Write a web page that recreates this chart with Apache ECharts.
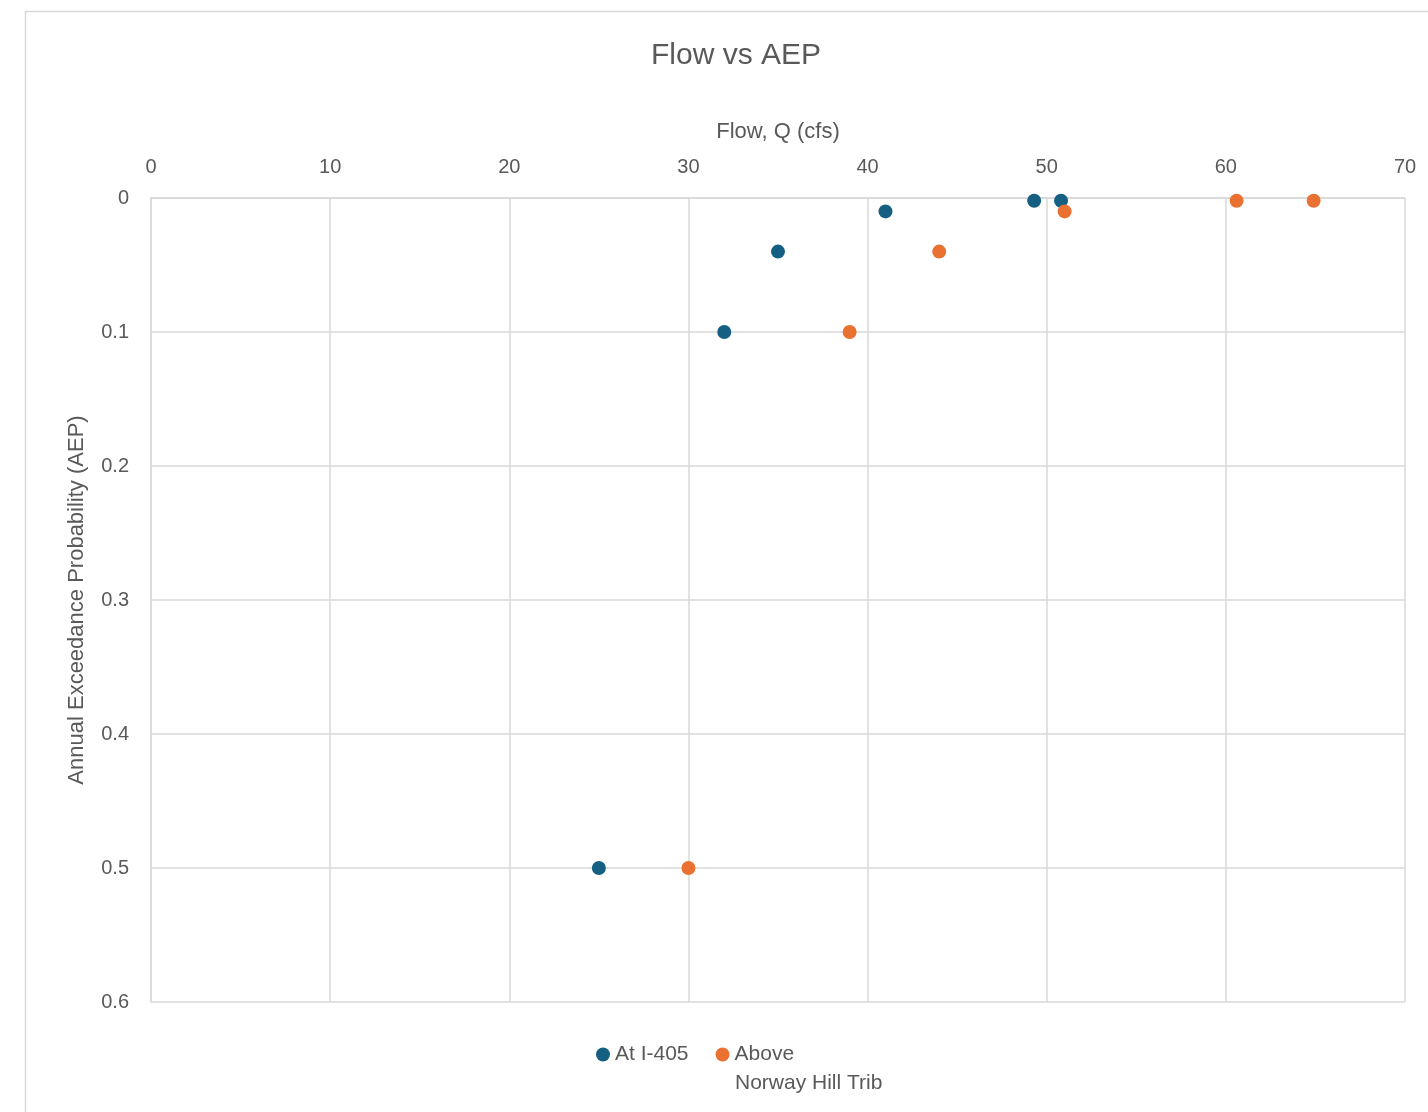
<!DOCTYPE html>
<html>
<head>
<meta charset="utf-8">
<script src="https://cdn.jsdelivr.net/npm/echarts@6/dist/echarts.min.js"></script>
<style>
  html, body { margin: 0; padding: 0; background: #ffffff; }
  #chart { width: 1428px; height: 1112px; }
</style>
</head>
<body>
<div id="chart"></div>
<script>
// Flow (cfs) and annual exceedance probability for each location
const seriesNames = ['At I-405', 'Above Norway Hill Trib'];
const flowAtI405 = [25, 32, 35, 41, 49.3, 50.8];
const aepAtI405 = [0.5, 0.1, 0.04, 0.01, 0.002, 0.002];
const flowAboveNorwayHill = [30, 39, 44, 51, 60.6, 64.9];
const aepAboveNorwayHill = [0.5, 0.1, 0.04, 0.01, 0.002, 0.002];
const seriesColors = ['#156082', '#e97132'];

const textColor = '#595959';
const gridColor = '#d9d9d9';
const fontFamily = '"Liberation Sans", Arial, sans-serif';

const pairs = (xs, ys) => xs.map((x, i) => [x, ys[i]]);

const chart = echarts.init(document.getElementById('chart'), null, { renderer: 'canvas' });

chart.setOption({
  backgroundColor: '#ffffff',
  animation: false,
  textStyle: { fontFamily: fontFamily, color: textColor },
  title: {
    text: 'Flow vs AEP',
    left: 731,
    textAlign: 'center',
    top: 36,
    textStyle: { fontFamily: fontFamily, fontSize: 30, fontWeight: 'normal', color: textColor }
  },
  graphic: [
    {
      type: 'rect',
      shape: { x: 25.5, y: 11.5, width: 1500, height: 1200 },
      style: { fill: 'none', stroke: gridColor, lineWidth: 1.5 },
      silent: true,
      z: -1
    },
    {
      // second line of the wrapped legend entry
      type: 'text',
      left: 735,
      top: 1073,
      silent: true,
      style: {
        text: 'Norway Hill Trib',
        fill: textColor,
        font: '21px ' + fontFamily
      }
    }
  ],
  grid: { left: 151, top: 198, width: 1254, height: 804, containLabel: false },
  xAxis: {
    type: 'value',
    position: 'top',
    min: 0,
    max: 70,
    interval: 10,
    name: 'Flow, Q (cfs)',
    nameLocation: 'middle',
    nameGap: 55,
    nameTextStyle: { fontFamily: fontFamily, fontSize: 22, color: textColor },
    axisLine: { show: true, onZero: false, lineStyle: { color: gridColor, width: 1.5 } },
    axisTick: { show: false },
    axisLabel: { fontFamily: fontFamily, fontSize: 20, color: textColor, margin: 21 },
    splitLine: { show: true, lineStyle: { color: gridColor, width: 1.5 } }
  },
  yAxis: {
    type: 'value',
    inverse: true,
    min: 0,
    max: 0.6,
    interval: 0.1,
    name: 'Annual Exceedance Probability (AEP)',
    nameLocation: 'middle',
    nameGap: 63,
    nameTextStyle: { fontFamily: fontFamily, fontSize: 22, color: textColor },
    axisLine: { show: true, onZero: false, lineStyle: { color: gridColor, width: 1.5 } },
    axisTick: { show: false },
    axisLabel: { fontFamily: fontFamily, fontSize: 20, color: textColor, margin: 22 },
    splitLine: { show: true, lineStyle: { color: gridColor, width: 1.5 } }
  },
  legend: {
    left: 591,
    top: 1039,
    itemWidth: 14,
    itemHeight: 14,
    itemGap: 27,
    icon: 'circle',
    textStyle: { fontFamily: fontFamily, fontSize: 21, color: textColor },
    formatter: name => name === seriesNames[1] ? 'Above' : name,
    data: seriesNames
  },
  series: [
    {
      name: seriesNames[0],
      type: 'scatter',
      symbol: 'circle',
      symbolSize: 14,
      itemStyle: { color: seriesColors[0], opacity: 1 },
      data: pairs(flowAtI405, aepAtI405)
    },
    {
      name: seriesNames[1],
      type: 'scatter',
      symbol: 'circle',
      symbolSize: 14,
      itemStyle: { color: seriesColors[1], opacity: 1 },
      data: pairs(flowAboveNorwayHill, aepAboveNorwayHill)
    }
  ]
});
</script>
</body>
</html>
